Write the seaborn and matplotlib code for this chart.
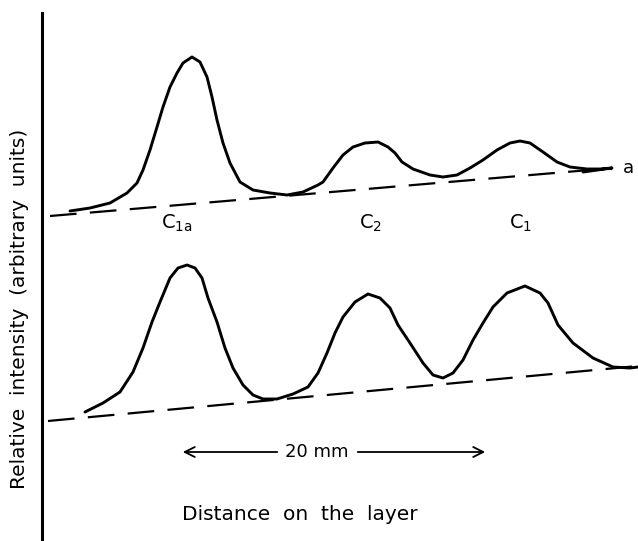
import numpy as np
import pandas as pd
import matplotlib
matplotlib.use("Agg")
import matplotlib.pyplot as plt
import seaborn as sns

# distance along the layer and relative intensity
upper_x = [70, 90, 110, 127, 137, 143, 150, 157, 163, 170, 177, 183, 192, 200, 207, 212,
           217, 223, 230, 240, 253, 270, 287, 303, 318, 323, 333, 343, 353, 365, 378, 388,
           395, 402, 413, 430, 443, 457, 470, 483, 497, 510, 520, 530, 543, 557, 570, 587,
           600, 612, 583]
upper_y = [330, 333, 338, 348, 358, 371, 391, 414, 434, 454, 468, 478, 484, 479, 464, 444,
           421, 398, 378, 359, 351, 348, 346, 349, 356, 359, 373, 386, 394, 398, 399, 394,
           388, 379, 372, 366, 364, 366, 373, 381, 391, 398, 400, 398, 389, 379, 374, 372,
           372, 373, 369]

lower_x = [85, 103, 120, 133, 143, 152, 160, 170, 178, 187, 195, 202, 208, 217, 225, 233,
           243, 253, 263, 277, 293, 308, 318, 327, 335, 343, 355, 368, 380, 390, 398, 410,
           423, 433, 443, 453, 463, 473, 483, 493, 507, 525, 540, 548, 558, 573, 593, 613,
           630, 638]
lower_y = [129, 138, 149, 169, 193, 219, 239, 263, 273, 276, 273, 263, 243, 219, 193, 173,
           156, 146, 142, 142, 147, 154, 168, 188, 208, 224, 239, 247, 243, 233, 216, 198,
           178, 166, 163, 168, 181, 201, 218, 234, 248, 255, 248, 238, 216, 198, 183, 174,
           173, 174]

# dashed baselines (start, end)
base_upper_x = [50, 613]
base_upper_y = [325, 373]
base_lower_x = [48, 638]
base_lower_y = [120, 175]

peak_names = ["C$_{\\mathrm{1a}}$", "C$_{\\mathrm{2}}$", "C$_{\\mathrm{1}}$"]
peak_pos = [177, 371, 521]

sns.set_style("white")
plt.rcParams['font.family'] = ['DejaVu Sans']
plt.rcParams['mathtext.fontset'] = 'dejavusans'
plt.rcParams['text.color'] = 'black'

fig = plt.figure(figsize=(6.38, 5.41), dpi=100)
ax = fig.add_axes([0, 0, 1, 1])

df_up = pd.DataFrame({"distance": upper_x, "intensity": upper_y})
df_lo = pd.DataFrame({"distance": lower_x, "intensity": lower_y})
sns.lineplot(data=df_up, x="distance", y="intensity", ax=ax, color="black", lw=2.1,
             sort=False, solid_joinstyle="round", solid_capstyle="round")
sns.lineplot(data=df_lo, x="distance", y="intensity", ax=ax, color="black", lw=2.1,
             sort=False, solid_joinstyle="round", solid_capstyle="round")

df_bu = pd.DataFrame({"distance": base_upper_x, "intensity": base_upper_y})
df_bl = pd.DataFrame({"distance": base_lower_x, "intensity": base_lower_y})
for d in [df_bu, df_bl]:
    sns.lineplot(data=d, x="distance", y="intensity", ax=ax, color="black", lw=1.6,
                 dashes=False, linestyle=(0, (12, 6)))

ax.set_xlim(0, 638)
ax.set_ylim(0, 541)
ax.set_xlabel("")
ax.set_ylabel("")
ax.set_xticks([])
ax.set_yticks([])
for s in ["top", "right", "bottom"]:
    ax.spines[s].set_visible(False)
ax.spines["left"].set_position(("data", 42))
ax.spines["left"].set_bounds(0, 528)
ax.spines["left"].set_linewidth(2.2)
ax.spines["left"].set_color("black")

for name, xp in zip(peak_names, peak_pos):
    ax.text(xp, 318, name, ha="center", va="center", fontsize=14)
ax.text(628, 373, "a", ha="center", va="center", fontsize=13)

# scale bar
ax.text(317, 89, "20 mm", ha="center", va="center", fontsize=13)
ax.annotate("", xy=(180, 89), xytext=(280, 89),
            arrowprops=dict(arrowstyle="->", color="black", lw=1.3, mutation_scale=18))
ax.annotate("", xy=(488, 89), xytext=(355, 89),
            arrowprops=dict(arrowstyle="->", color="black", lw=1.3, mutation_scale=18))

ax.text(300, 26, "Distance  on  the  layer", ha="center", va="center", fontsize=14.5)
ax.text(20, 232, "Relative  intensity  (arbitrary  units)", ha="center", va="center",
        rotation=90, fontsize=14.5)

fig.savefig("out.png", dpi=100)
